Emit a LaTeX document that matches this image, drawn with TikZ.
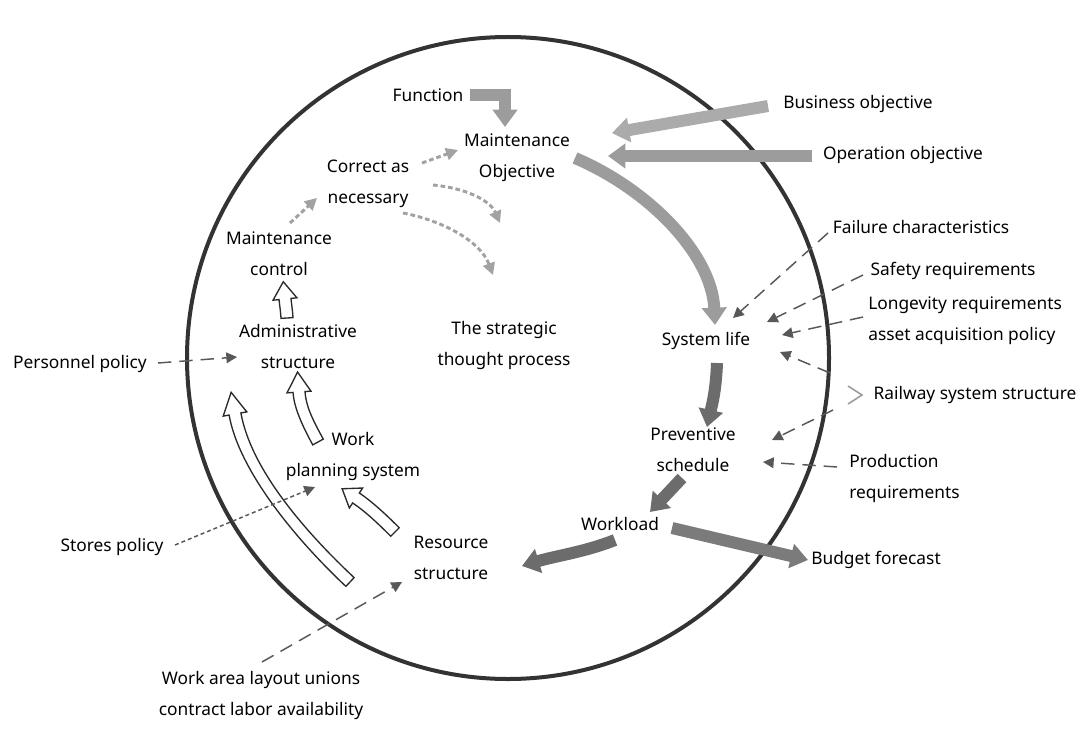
\documentclass[tikz,border=0pt]{standalone}
\usepackage{fontspec}
\setmainfont{Noto Sans}
\usetikzlibrary{arrows.meta,calc}

\definecolor{ring}{HTML}{333333}
\definecolor{lightflow}{HTML}{9C9C9C}
\definecolor{darkflow}{HTML}{6C6C6C}
\definecolor{dotink}{HTML}{A2A2A2}
\definecolor{dashink}{HTML}{585858}
\definecolor{hollowink}{HTML}{2A2A2A}

% hollow (outlined) arrow along a cubic curve:
% #1 tail, #2 first control, #3 second control, #4 head base, #5 head length
\newcommand\hollowarrow[5]{%
  \coordinate (h0) at (#1);
  \coordinate (h1) at (#2);
  \coordinate (h2) at (#3);
  \coordinate (h3) at (#4);
  \filldraw[fill=white, draw=hollowink, line width=1pt, line join=miter]
    ($(h0)!4.5pt!90:(h1)$) .. controls ($(h1)!4.5pt!-90:(h0)$) and ($(h2)!4.5pt!90:(h3)$) .. ($(h3)!4.5pt!-90:(h2)$)
    -- ($(h3)!9pt!-90:(h2)$) -- ($(h3)!-#5!(h2)$) -- ($(h3)!9pt!90:(h2)$)
    -- ($(h3)!4.5pt!90:(h2)$) .. controls ($(h2)!4.5pt!-90:(h3)$) and ($(h1)!4.5pt!90:(h0)$) .. ($(h0)!4.5pt!-90:(h1)$)
    -- cycle;
}

\tikzset{
  lbl/.style={align=center, inner sep=0pt, font=\fontsize{13pt}{23.25pt}\selectfont},
  thickflow/.style={line width=9pt, -{Triangle[width=18pt,length=13pt]}},
  dotflow/.style={dotink, line width=2.2pt, dash pattern=on 3.5pt off 2.2pt,
                  -{Triangle[width=9pt,length=9pt]}},
  dashflow/.style={dashink, line width=1.1pt, dash pattern=on 10pt off 6pt,
                   -{Triangle[width=8pt,length=8pt]}},
  fineflow/.style={dashink, line width=1.1pt, dash pattern=on 3pt off 2.2pt,
                   -{Triangle[width=8pt,length=8pt]}},
}

\begin{document}
\begin{tikzpicture}[x=0.75pt, y=-0.75pt]
  \useasboundingbox[fill=white] (0,0) rectangle (1080,738);

  % the system boundary
  \draw[ring, line width=3pt] (508,358) circle[radius=321];

  % labels inside the boundary
  \node[lbl] (fn)  at (428,95)  {Function};
  \node[lbl] (mo)  at (517,158) {Maintenance\\Objective};
  \node[lbl] (can) at (368,184) {Correct as\\necessary};
  \node[lbl] (mc)  at (279,254) {Maintenance\\control};
  \node[lbl] (as)  at (298,346) {Administrative\\structure};
  \node[lbl] (stp) at (504,345) {The strategic\\thought process};
  \node[lbl] (sl)  at (706,341) {System life};
  \node[lbl] (ps)  at (693,450) {Preventive\\schedule};
  \node[lbl] (wl)  at (620,524) {Workload};
  \node[lbl] (rs)  at (451,558) {Resource\\structure};
  \node[lbl] (wps) at (353,456) {Work\\planning system};

  % labels outside the boundary
  \node[lbl] (bf)  at (876,560) {Budget forecast};
  \node[lbl] (sp)  at (112,547) {Stores policy};
  \node[lbl] (wa)  at (261,695) {Work area layout unions\\contract labor availability};
  \node[lbl] (pp)  at (80,364)  {Personnel policy};
  \node[lbl] (bo)  at (858,104) {Business objective};
  \node[lbl] (oo)  at (903,155) {Operation objective};
  \node[lbl] (fc)  at (921,227) {Failure characteristics};
  \node[lbl] (sr)  at (953,271) {Safety requirements};
  \node[lbl, anchor=west, align=left] (lr) at (868,321) {Longevity requirements\\asset acquisition policy};
  \node[lbl] (rss) at (975,395) {Railway system structure};
  \node[lbl, anchor=west, align=left] (pr) at (849,478) {Production\\requirements};

  % arrow end points
  \coordinate (fn-out) at (470,95.5);
  \coordinate (fn-bend) at (505,95.5);
  \coordinate (mo-in1) at (505,127);
  \coordinate (bo-out) at (768,106);
  \coordinate (mo-in2) at (612,133);
  \coordinate (oo-out) at (812,156);
  \coordinate (mo-in3) at (608,156);
  \coordinate (mo-out) at (575,158);
  \coordinate (sl-in)  at (715,325);
  \coordinate (sl-out) at (717,363);
  \coordinate (ps-in)  at (707,427);
  \coordinate (ps-out) at (682,478);
  \coordinate (wl-in)  at (650,512);
  \coordinate (wl-out1) at (615,540);
  \coordinate (rs-in)  at (522,566);
  \coordinate (wl-out2) at (672,528);
  \coordinate (bf-in)  at (808,560);

  % strategic loop (grey, thick)
  \draw[lightflow, thickflow, line join=miter] (fn-out) -- (fn-bend) -- (mo-in1);
  \draw[lightflow!85, thickflow] (bo-out) -- (mo-in2);
  \draw[lightflow, thickflow] (oo-out) -- (mo-in3);
  \draw[lightflow, thickflow] (mo-out) .. controls (650,190) and (712,255) .. (sl-in);

  % operational chain (darker)
  \draw[darkflow, thickflow] (sl-out) .. controls (716,390) and (712,405) .. (ps-in);
  \draw[darkflow, thickflow] (ps-out) -- (wl-in);
  \draw[darkflow, thickflow] (wl-out1) .. controls (585,552) and (555,556) .. (rs-in);
  \draw[darkflow!90, thickflow] (wl-out2) -- (bf-in);

  % hollow arrows of the administrative side
  \hollowarrow{287,318}{286.5,310}{285.5,304}{285,299}{13pt}
  \hollowarrow{318,442}{306,420}{300,406}{299,392}{15pt}
  \hollowarrow{350,582}{300,535}{245,470}{235,414}{16.5pt}
  \hollowarrow{395,532}{381,518}{368,506}{356,498}{12.5pt}

  % feedback (dotted grey)
  \coordinate (mc-out) at (290,223);
  \coordinate (can-in) at (317,198);
  \coordinate (can-out1) at (422,163);
  \coordinate (mo-in4) at (458,150);
  \coordinate (can-out2) at (433,185);
  \coordinate (fb-end1) at (500,223);
  \coordinate (can-out3) at (403,213);
  \coordinate (stp-in) at (493,275);
  \draw[dotflow] (mc-out) -- (can-in);
  \draw[dotflow] (can-out1) -- (mo-in4);
  \draw[dotflow] (can-out2) .. controls (465,188) and (490,200) .. (fb-end1);
  \draw[dotflow] (can-out3) .. controls (440,220) and (480,240) .. (stp-in);

  % external influences (dashed)
  \coordinate (fc-out) at (828,233);
  \coordinate (sl-in1) at (733,318);
  \coordinate (sr-out) at (863,275);
  \coordinate (sl-in2) at (767,322);
  \coordinate (lr-out) at (863,317);
  \coordinate (sl-in3) at (782,335);
  \coordinate (rss-out1) at (830,373);
  \coordinate (sl-in4) at (780,352);
  \coordinate (rss-out2) at (833,410);
  \coordinate (ps-in1) at (772,440);
  \coordinate (pr-out) at (837,467);
  \coordinate (ps-in2) at (763,462);
  \coordinate (pp-out) at (158,363);
  \coordinate (as-in) at (237,357);
  \coordinate (wa-out) at (262,662);
  \coordinate (rs-in2) at (402,582);
  \coordinate (sp-out) at (175,545);
  \coordinate (wps-in) at (315,487);
  \draw[dashflow] (fc-out) -- (sl-in1);
  \draw[dashflow] (sr-out) -- (sl-in2);
  \draw[dashflow] (lr-out) -- (sl-in3);
  \draw[dashflow] (rss-out1) -- (sl-in4);
  \draw[dashflow] (rss-out2) -- (ps-in1);
  \draw[dashflow] (pr-out) -- (ps-in2);
  \draw[dashflow] (pp-out) -- (as-in);
  \draw[dashflow] (wa-out) -- (rs-in2);
  \draw[fineflow] (sp-out) -- (wps-in);

  % small chevron beside the railway label
  \draw[lightflow, line width=1.2pt] (848,386) -- (862,395) -- (848,404);
\end{tikzpicture}
\end{document}
